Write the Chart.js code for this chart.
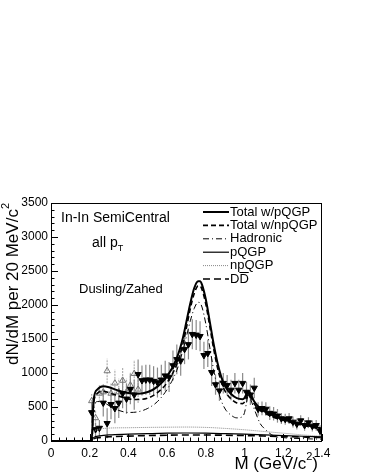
<!DOCTYPE html>
<html><head><meta charset="utf-8">
<script src="https://cdn.jsdelivr.net/npm/chart.js@4"></script>
<style>html,body{margin:0;padding:0;background:#fff}canvas{display:block}</style>
</head><body>
<canvas id="c" width="366" height="473"></canvas>
<script>
// ---- data ----
const curveMass = [0,0.2,0.21,0.22,0.24,0.27,0.3,0.35,0.4,0.45,0.5,0.55,0.6,0.65,0.68,0.7,0.72,0.74,0.76,0.77,0.78,0.8,0.82,0.84,0.86,0.88,0.9,0.93,0.96,0.99,1.0,1.01,1.02,1.03,1.05,1.08,1.1,1.15,1.2,1.25,1.3,1.35,1.4];
const totalPQGP = [0,0,0,600,760,805,790,740,705,695,720,800,950,1220,1500,1760,2030,2250,2350,2350,2300,2080,1760,1430,1150,940,800,690,630,615,635,690,730,700,580,480,440,370,320,280,245,215,185];
const totalNpQGP = [0,0,0,550,700,730,710,660,620,610,630,710,860,1130,1410,1670,1950,2170,2280,2280,2230,2010,1690,1360,1080,870,730,620,560,550,575,640,690,660,545,450,415,350,305,265,230,200,175];
const hadronic = [0,0,0,450,580,570,520,450,420,430,480,580,760,1040,1320,1540,1770,1950,2040,2030,1970,1720,1380,1050,780,590,470,380,340,360,420,560,680,620,470,260,190,75,50,40,35,30,28];
const compMass = [0,0.2,0.21,0.22,0.25,0.3,0.4,0.5,0.6,0.7,0.8,0.9,1.0,1.1,1.2,1.3,1.4];
const pQGP = [0,0,0,50,75,90,100,108,115,118,115,108,100,90,80,70,60];
const npQGP = [0,0,0,130,175,190,195,200,203,205,200,185,165,140,115,90,70];
const ddbar = [0,0,0,30,50,62,72,80,85,88,88,85,80,73,66,58,50];

const dataMass = [0.21,0.23,0.25,0.27,0.29,0.31,0.33,0.35,0.37,0.39,0.41,0.43,0.45,0.47,0.49,0.51,0.53,0.55,0.57,0.59,0.61,0.63,0.65,0.67,0.69,0.71,0.73,0.75,0.77,0.79,0.81,0.83,0.85,0.87,0.89,0.91,0.93,0.95,0.97,0.99,1.01,1.03,1.05,1.07,1.09,1.11,1.13,1.15,1.17,1.19,1.21,1.23,1.25,1.27,1.29,1.31,1.33,1.35,1.37,1.39];
const dataY = [420,170,190,560,260,540,480,560,700,620,760,680,980,890,900,900,880,860,900,960,940,1110,1200,1180,1350,1420,1570,1560,1540,1260,1290,1010,830,740,850,820,750,850,750,850,720,680,780,470,480,470,410,400,370,330,320,330,280,250,300,230,270,220,230,150];
const dataErr = [150,100,120,200,220,220,220,220,220,220,220,220,220,220,220,220,220,220,220,220,220,220,220,220,220,220,220,220,220,200,200,200,150,150,150,150,150,150,150,150,150,150,150,100,100,100,100,100,100,80,80,80,80,80,80,80,80,80,80,80];
const openMass = [0.21,0.23,0.25,0.27,0.29,0.31,0.33,0.35,0.37,0.39,0.41,0.43,0.45];
const openY = [590,340,700,720,1030,700,850,720,890,720,820,990,760];
const openErr = [100,100,120,120,180,150,200,200,200,200,200,200,200];

const xTicks = [0,0.2,0.4,0.6,0.8,1,1.2,1.4];
const xTickLabels = ['0','0.2','0.4','0.6','0.8','1','1.2','1.4'];
const yTicks = [0,500,1000,1500,2000,2500,3000,3500];
const yTickLabels = ['0','500','1000','1500','2000','2500','3000','3500'];

const pts = (xs, ys) => xs.map((x,i)=>({x:x,y:ys[i]}));
const FONT = '"Liberation Sans", Arial, Helvetica, sans-serif';

const decor = {
  id:'decor',
  beforeDatasetsDraw(chart){
    const ctx = chart.ctx, xs = chart.scales.x, ys = chart.scales.y;
    ctx.save();
    const bars = (mx, my, me, col, dash) => {
      ctx.strokeStyle = col; ctx.lineWidth = 1.2; ctx.setLineDash(dash);
      mx.forEach((m,i)=>{
        const px = xs.getPixelForValue(m);
        ctx.beginPath();
        ctx.moveTo(px, ys.getPixelForValue(my[i]-me[i]));
        ctx.lineTo(px, ys.getPixelForValue(my[i]+me[i]));
        ctx.stroke();
      });
    };
    bars(openMass, openY, openErr, '#b0b0b0', [2,1]);
    bars(dataMass, dataY, dataErr, '#8a8a8a', []);
    ctx.restore();
  },
  afterDraw(chart){
    const ctx = chart.ctx, xs = chart.scales.x, ys = chart.scales.y, a = chart.chartArea;
    ctx.save();
    ctx.setLineDash([]);
    ctx.strokeStyle = '#000'; ctx.lineWidth = 1;
    ctx.strokeRect(Math.round(a.left)+0.5, Math.round(a.top)+0.5, Math.round(a.right-a.left)-1, Math.round(a.bottom-a.top));
    for (let v=0; v<=3500; v+=100){
      const py = Math.round(ys.getPixelForValue(v))+0.5;
      const len = (v%500===0)?7:3.5;
      ctx.beginPath(); ctx.moveTo(a.left, py); ctx.lineTo(a.left+len, py); ctx.stroke();
    }
    for (let k=0; k<=35; k++){
      const v = k*0.04;
      const px = Math.round(xs.getPixelForValue(v))+0.5;
      const len = (k%5===0)?7:3.5;
      ctx.beginPath(); ctx.moveTo(px, a.bottom); ctx.lineTo(px, a.bottom-len); ctx.stroke();
    }
    ctx.fillStyle = '#000';
    ctx.textBaseline = 'middle';
    ctx.textAlign = 'left';
    ctx.font = '14px ' + FONT;
    ctx.fillText('In-In SemiCentral', 61, 218);
    ctx.fillText('all p', 92, 243);
    const wp = ctx.measureText('all p').width;
    ctx.font = '9px ' + FONT;
    ctx.fillText('T', 92+wp, 249);
    ctx.font = '13px ' + FONT;
    ctx.fillText('Dusling/Zahed', 79, 289);
    const leg = [
      ['Total w/pQGP', [], 2, '#000'],
      ['Total w/npQGP', [5,3], 1.6, '#000'],
      ['Hadronic', [6,3,1,3], 1, '#000'],
      ['pQGP', [], 1.2, '#000'],
      ['npQGP', [1,1], 1, '#888'],
      ['DD', [7,4], 1.6, '#000']
    ];
    ctx.font = '13px ' + FONT;
    leg.forEach((e,i)=>{
      const y = 212 + i*13.4;
      ctx.strokeStyle = e[3]; ctx.lineWidth = e[2]; ctx.setLineDash(e[1]);
      ctx.beginPath(); ctx.moveTo(203, y); ctx.lineTo(229, y); ctx.stroke();
      ctx.setLineDash([]);
      ctx.fillStyle = '#000';
      ctx.fillText(e[0], 230, y);
      if (e[0]==='DD'){
        const w1 = ctx.measureText('D').width;
        ctx.strokeStyle = '#000'; ctx.lineWidth = 1;
        ctx.beginPath(); ctx.moveTo(230+w1, y-6.5); ctx.lineTo(230+2*w1, y-6.5); ctx.stroke();
      }
    });
    ctx.fillStyle = '#000';
    const xt1 = 'M (GeV/c', xt2 = '2', xt3 = ')';
    ctx.font = '17px ' + FONT; const w1 = ctx.measureText(xt1).width, w3 = ctx.measureText(xt3).width;
    ctx.font = '11px ' + FONT; const w2 = ctx.measureText(xt2).width;
    let x0 = 318 - (w1+w2+w3);
    ctx.font = '17px ' + FONT; ctx.fillText(xt1, x0, 464);
    ctx.font = '11px ' + FONT; ctx.fillText(xt2, x0+w1, 457);
    ctx.font = '17px ' + FONT; ctx.fillText(xt3, x0+w1+w2, 464);
    ctx.save();
    ctx.translate(13, 203);
    ctx.rotate(-Math.PI/2);
    const yt1 = 'dN/dM per 20 MeV/c';
    ctx.font = '17px ' + FONT; const yw1 = ctx.measureText(yt1).width;
    ctx.font = '11px ' + FONT; const yw2 = ctx.measureText('2').width;
    const s = -(yw1+yw2);
    ctx.font = '17px ' + FONT; ctx.fillText(yt1, s, 0);
    ctx.font = '11px ' + FONT; ctx.fillText('2', s+yw1, -7);
    ctx.restore();
    ctx.restore();
  }
};

const line = (label, xs, ys, color, width, dash, order) => ({
  type:'line', label, data: pts(xs, ys), borderColor: color, borderWidth: width,
  borderDash: dash, pointRadius: 0, fill: false, cubicInterpolationMode: 'monotone', order
});

new Chart(document.getElementById('c'), {
  type: 'scatter',
  data: { datasets: [
    line('Total w/pQGP', curveMass, totalPQGP, '#000', 2, [], 1),
    line('Total w/npQGP', curveMass, totalNpQGP, '#000', 1.6, [5,3], 2),
    line('Hadronic', curveMass, hadronic, '#000', 1, [6,3,1,3], 3),
    line('pQGP', compMass, pQGP, '#000', 1.2, [], 4),
    line('npQGP', compMass, npQGP, '#888', 1, [1,1], 5),
    line('DD', compMass, ddbar, '#000', 1.6, [7,4], 6),
    { label:'data', data: pts(dataMass, dataY), pointStyle:'triangle', rotation:180, pointRadius:3.6,
      backgroundColor:'#000', borderColor:'#000', borderWidth:1, showLine:false, order: 7 },
    { label:'open', data: pts(openMass, openY), pointStyle:'triangle', pointRadius:3.6,
      backgroundColor:'rgba(255,255,255,0)', borderColor:'#777', borderWidth:1, showLine:false, order: 8 }
  ]},
  options: {
    responsive:false, animation:false, devicePixelRatio:1,
    layout:{ padding:{ top:203, right:44, left:0, bottom:0 } },
    plugins:{ legend:{display:false}, tooltip:{enabled:false} },
    scales:{
      x:{ type:'linear', min:0, max:1.4, border:{display:false},
        grid:{display:false, drawTicks:false},
        afterBuildTicks(s){ s.ticks = xTicks.map(v=>({value:v})); },
        afterFit(s){ s.height = 32; },
        ticks:{ padding:5, color:'#000', font:{family:FONT, size:12}, maxRotation:0, autoSkip:false,
          callback:(v)=>{ const i = xTicks.findIndex(t=>Math.abs(t-v)<1e-6); return i>=0?xTickLabels[i]:''; } } },
      y:{ min:0, max:3500, border:{display:false},
        grid:{display:false, drawTicks:false},
        afterBuildTicks(s){ s.ticks = yTicks.map(v=>({value:v})); },
        afterFit(s){ s.width = 51; },
        ticks:{ padding:3, color:'#000', font:{family:FONT, size:12}, autoSkip:false,
          callback:(v)=>{ const i = yTicks.indexOf(v); return i>=0?yTickLabels[i]:''; } } }
    }
  },
  plugins:[decor]
});
</script>
</body></html>
